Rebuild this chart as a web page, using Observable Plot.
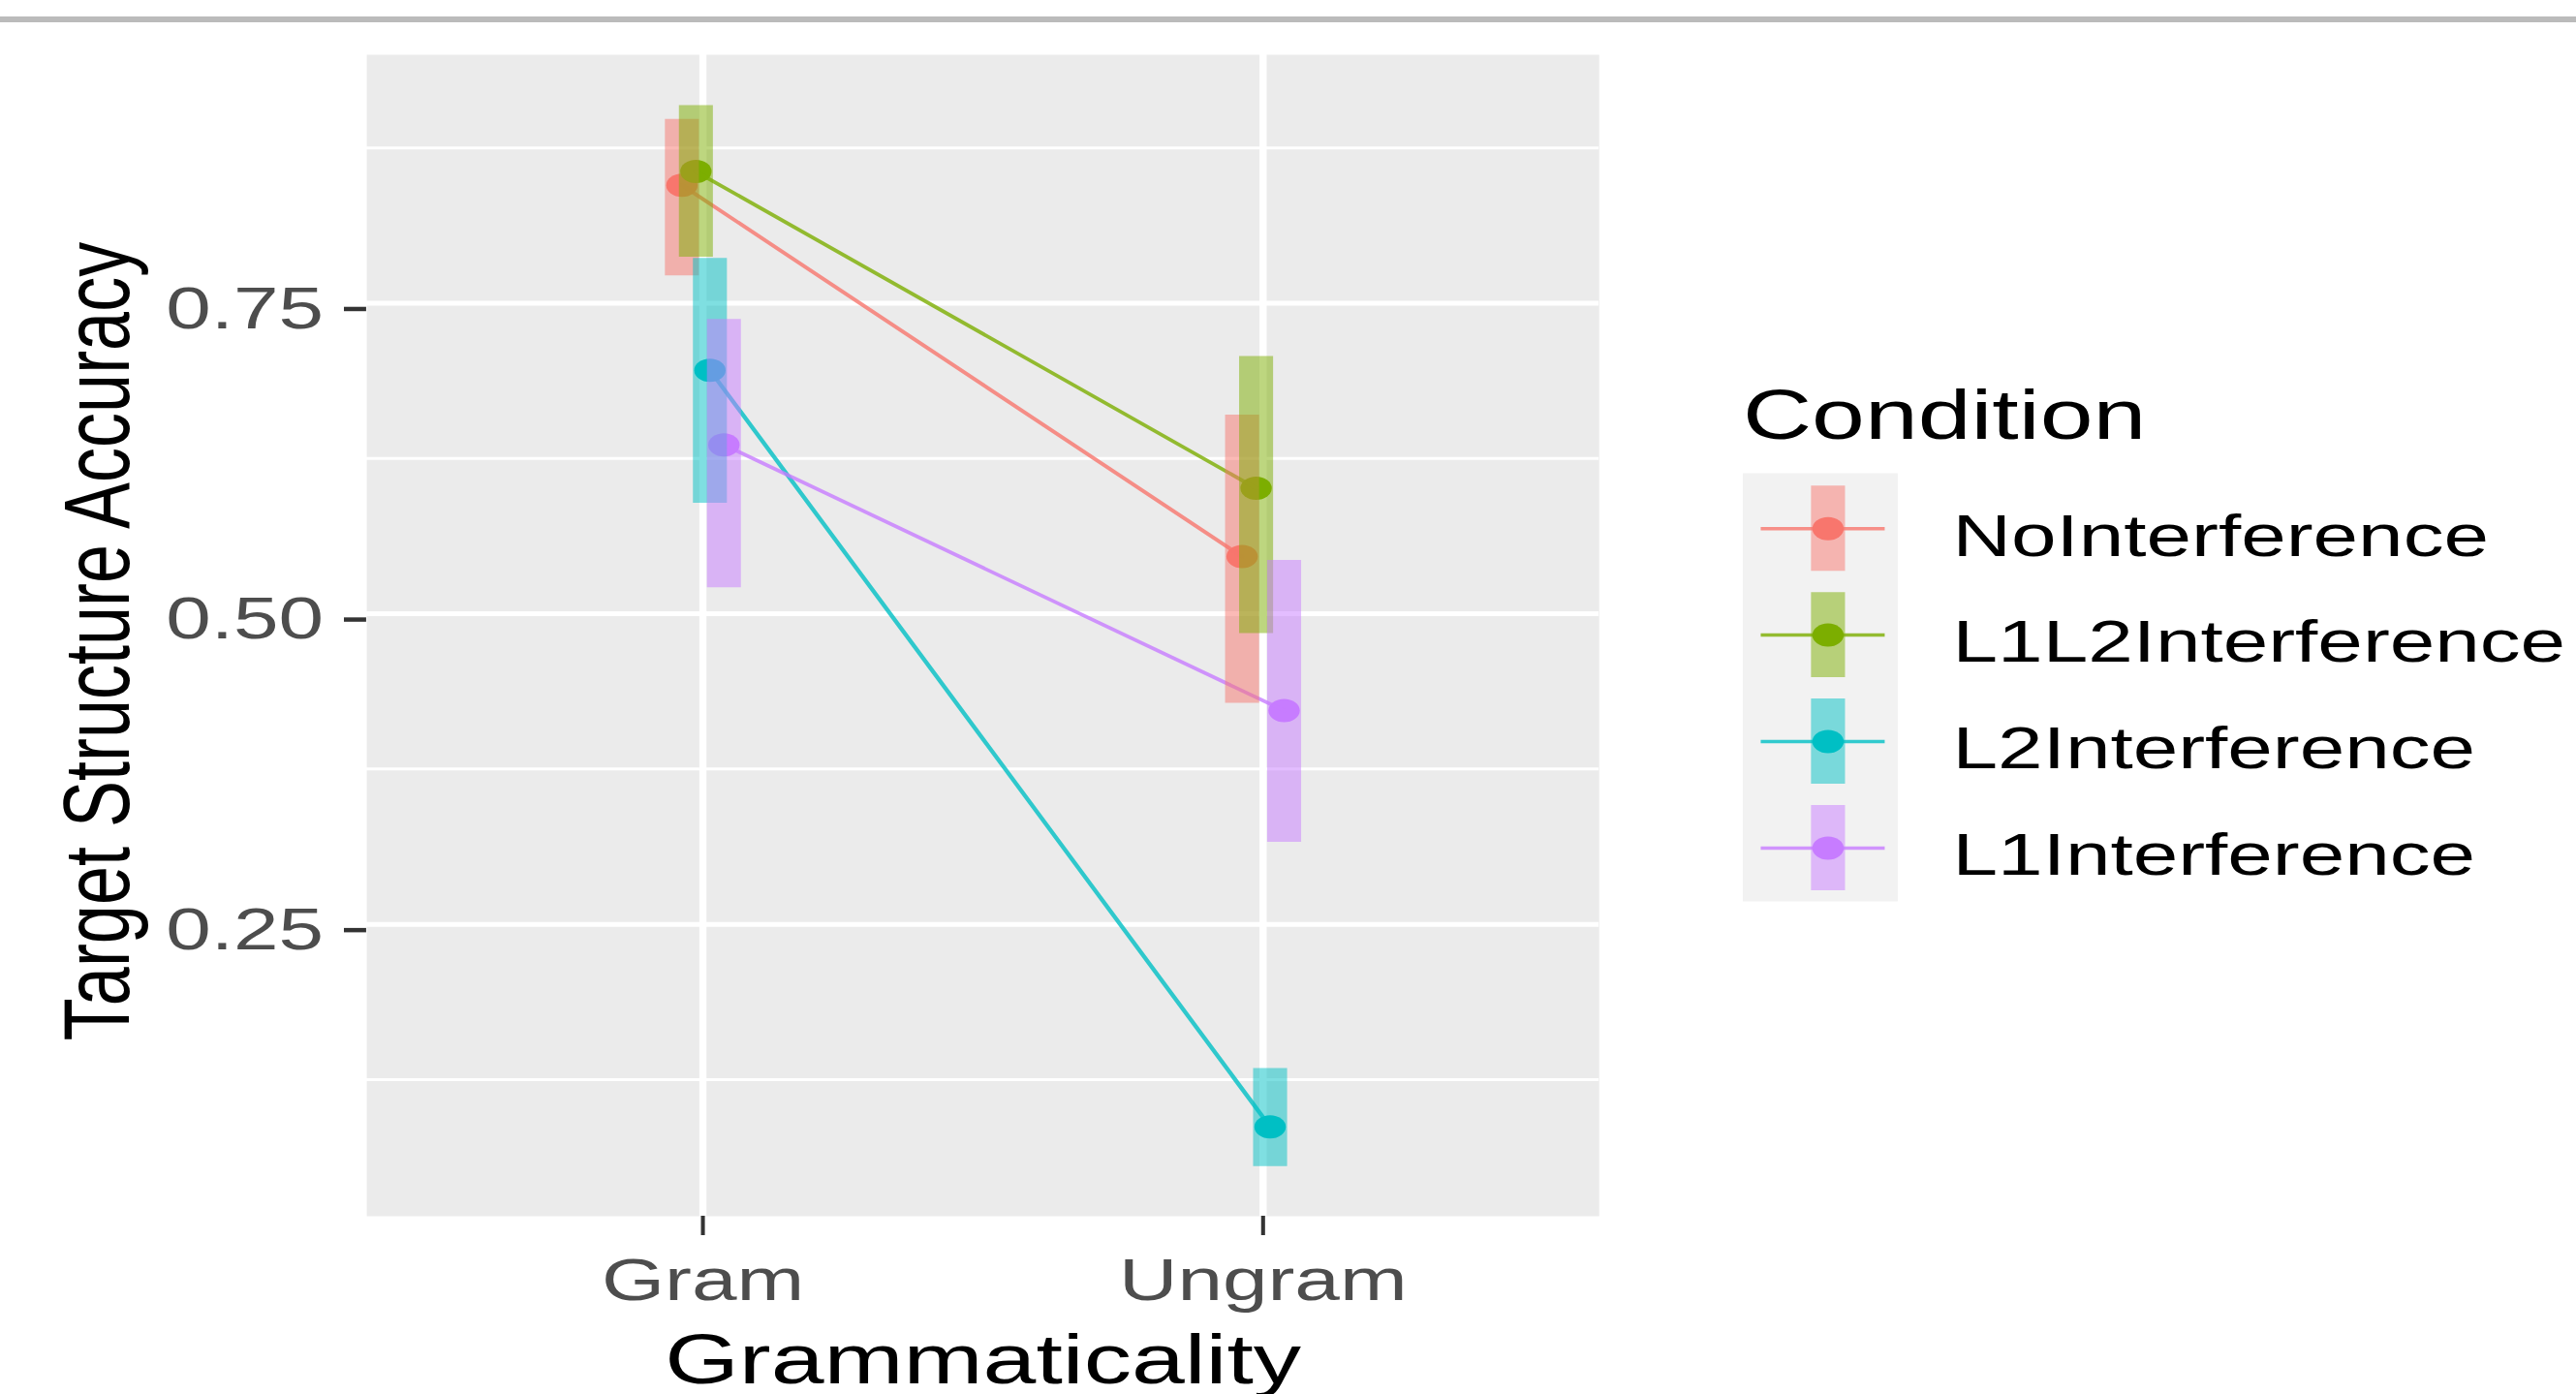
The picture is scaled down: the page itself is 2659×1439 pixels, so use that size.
<!DOCTYPE html>
<html>
<head>
<meta charset="utf-8">
<script src="https://cdn.jsdelivr.net/npm/d3@7"></script>
<script src="https://cdn.jsdelivr.net/npm/@observablehq/plot@0.6"></script>
<style>
html, body { margin: 0; padding: 0; background: #ffffff; overflow: hidden; width: 2659px; height: 1439px; }
#wrap { position: absolute; left: 0; top: 0; width: 1970px; height: 1439px; transform: scaleX(1.34975); transform-origin: 0 0; }
#rule { position: absolute; left: 0; top: 17px; width: 1970px; height: 6px; background: #bbbbbb; }
#main { position: absolute; left: 0; top: 0; }
#legend { position: absolute; left: 1318.7px; top: 360px; }
</style>
</head>
<body>
<div id="wrap"><div id="rule"></div><div id="main"></div><div id="legend"></div></div>
<script>
// ---- data ----
const groups = ["Gram", "Ungram"];
const conditions = ["NoInterference", "L1L2Interference", "L2Interference", "L1Interference"];
const colors = ["#F8766D", "#7CAE00", "#00BFC4", "#C77CFF"];
const meanGram    = [0.845, 0.856, 0.696, 0.636];
const lowerGram   = [0.772, 0.787, 0.589, 0.521];
const upperGram   = [0.898, 0.909, 0.786, 0.737];
const meanUngram  = [0.546, 0.601, 0.087, 0.422];
const lowerUngram = [0.428, 0.484, 0.055, 0.316];
const upperUngram = [0.660, 0.707, 0.134, 0.543];
const majorYTicks = [0.25, 0.50, 0.75];
const minorYTicks = [0.125, 0.375, 0.625, 0.875];
const xLabel = "Grammaticality";
const yLabel = "Target Structure Accuracy";
const legendTitle = "Condition";
const dodgeWidth = 0.1;

const means = [meanGram, meanUngram];
const lowers = [lowerGram, lowerUngram];
const uppers = [upperGram, upperUngram];
const n = conditions.length;
const rows = [];
conditions.forEach((c, i) => {
  groups.forEach((g, j) => {
    rows.push({
      condition: c,
      group: g,
      x: j + 1 + (i - (n - 1) / 2) * dodgeWidth / n,
      mean: means[j][i],
      lower: lowers[j][i],
      upper: uppers[j][i]
    });
  });
});

const font = "'Liberation Sans', Arial, Helvetica, sans-serif";
const baseStyle = { fontFamily: font, background: "transparent", maxWidth: "none", overflow: "visible" };

const main = Plot.plot({
  width: 1300, height: 1439,
  marginLeft: 280, marginRight: 77.5, marginTop: 56, marginBottom: 184,
  style: baseStyle,
  x: { domain: [0.4, 2.6], axis: null },
  y: { domain: [0.015, 0.95], axis: null },
  color: { domain: conditions, range: colors },
  marks: [
    Plot.frame({ fill: "#EBEBEB", stroke: "none" }),
    Plot.ruleY(minorYTicks, { stroke: "#ffffff", strokeWidth: 3 }),
    Plot.ruleY(majorYTicks, { stroke: "#ffffff", strokeWidth: 5 }),
    Plot.ruleX([1, 2], { stroke: "#ffffff", strokeWidth: 5.5 }),
    Plot.dot(rows, { x: "x", y: "mean", fill: "condition", r: 12 }),
    Plot.line(rows, { x: "x", y: "mean", stroke: "condition", strokeWidth: 3.5, strokeOpacity: 0.8 }),
    Plot.ruleX(rows, { x: "x", y1: "lower", y2: "upper", stroke: "condition", strokeWidth: 26, strokeOpacity: 0.5 }),
    Plot.axisY({ ticks: majorYTicks, tickFormat: d3.format(".2f"), tickSize: 17, tickPadding: 16,
      fontSize: 62, stroke: "#333333", strokeWidth: 4.5, fill: "#4D4D4D", label: null, dy: 6 }),
    Plot.axisX({ ticks: [1, 2], tickFormat: d => groups[d - 1], tickSize: 20, tickPadding: 22,
      fontSize: 62, stroke: "#333333", strokeWidth: 3, fill: "#4D4D4D", label: null }),
    Plot.text([xLabel], { frameAnchor: "bottom", dy: 172, lineAnchor: "bottom", textAnchor: "middle", fontSize: 73, fill: "#000000" }),
    Plot.text([yLabel], { frameAnchor: "left", dx: -182, dy: 6, rotate: -90, textAnchor: "middle", lineAnchor: "bottom", fontSize: 72, fill: "#000000" })
  ]
});
document.getElementById("main").appendChild(main);

const legendRows = conditions.map((c, i) => ({ condition: c, i }));
const legend = Plot.plot({
  width: 651, height: 600,
  marginLeft: 13.3, marginRight: 519.2, marginTop: 128, marginBottom: 30,
  style: baseStyle,
  x: { domain: [0, 1], axis: null },
  y: { domain: [-0.52, 3.5], reverse: true, axis: null },
  color: { domain: conditions, range: colors },
  marks: [
    Plot.frame({ fill: "#F2F2F2", stroke: "none" }),
    Plot.ruleY(legendRows, { y: "i", x1: 0.12, x2: 0.92, stroke: "condition", strokeWidth: 3.5, strokeOpacity: 0.8 }),
    Plot.dot(legendRows, { x: 0.55, y: "i", fill: "condition", r: 12 }),
    Plot.ruleX(legendRows, { x: 0.55, y1: d => d.i - 0.4, y2: d => d.i + 0.4, stroke: "condition", strokeWidth: 26, strokeOpacity: 0.5 }),
    Plot.text(legendRows, { x: 1, y: "i", text: "condition", dx: 42, dy: 8, textAnchor: "start", lineAnchor: "middle", fontSize: 62, fill: "#000000" }),
    Plot.text([legendTitle], { frameAnchor: "top-left", dy: -36, lineAnchor: "bottom", textAnchor: "start", fontSize: 73, fill: "#000000" })
  ]
});
document.getElementById("legend").appendChild(legend);
</script>
</body>
</html>
